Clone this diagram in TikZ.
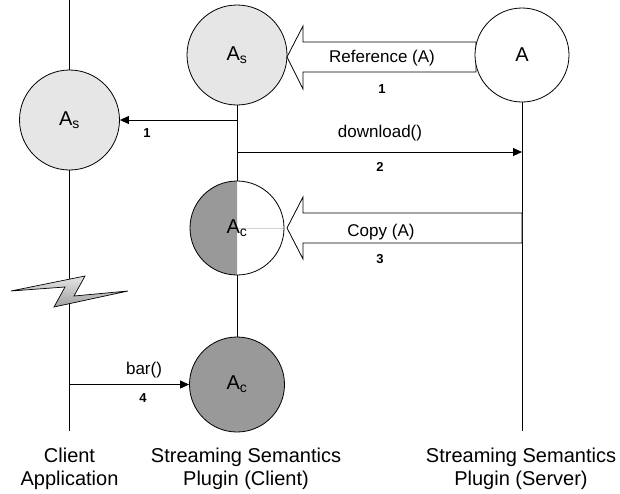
\documentclass[tikz,border=0pt]{standalone}
\usepackage{fontspec}
\setmainfont{Liberation Sans}
\usetikzlibrary{arrows.meta}
\definecolor{lightfill}{RGB}{230,230,230}
\definecolor{darkfill}{RGB}{153,153,153}
\begin{document}
\begin{tikzpicture}[x=1pt,y=-1pt,
  line width=0.9pt,
  circ/.style={circle,draw=black,line width=0.8pt,inner sep=0pt,font=\fontsize{20}{22}\selectfont},
  lbl/.style={font=\fontsize{17}{19}\selectfont,inner sep=0pt},
  num/.style={font=\fontsize{13}{15}\selectfont\bfseries,inner sep=0pt},
  bottomlbl/.style={font=\fontsize{20}{23}\selectfont,align=center,inner sep=0pt,anchor=base},
  msg/.style={-{Triangle[length=9pt,width=8pt]}},
  bigarrow/.style={draw=black,fill=white,line width=0.8pt}
]
\useasboundingbox (0,0) rectangle (620,493);

% coordinates
\coordinate (ctop) at (69.5,0);
\coordinate (cbot) at (69.5,431);
\coordinate (sbot) at (522,431);

% circles
\node[circ,fill=lightfill,minimum size=100pt] (ps) at (237,55) {A\textsubscript{s}};
\node[circ,fill=lightfill,minimum size=100pt] (cs) at (69.5,120) {A\textsubscript{s}};
\node[circ,fill=darkfill,minimum size=95pt] (pb) at (237,384.5) {A\textsubscript{c}};

% lifelines
\coordinate (pcn) at (237,181);
\coordinate (pcs) at (237,275);
\coordinate (srvs) at (522,102);
\draw (ctop) -- (cs.north);
\draw (cs.south) -- (cbot);
\draw (ps.south) -- (pcn);
\draw (pcs) -- (pb.north);
\draw (srvs) -- (sbot);

% big arrows
\draw[bigarrow] (476,42) -- (303,42) -- (303,26) -- (287,57) -- (303,89) -- (303,72) -- (476,72) -- cycle;
\draw[bigarrow] (522,213) -- (303,213) -- (303,197) -- (287,228) -- (303,259) -- (303,243) -- (522,243) -- cycle;

% server circle on top of arrow end
\node[circ,fill=white,minimum size=94pt] (srv) at (522,55) {A};

% middle circle, half filled
\fill[white] (237,228) circle[radius=47pt];
\begin{scope}
  \clip (180,170) rectangle (237,290);
  \fill[darkfill] (237,228) circle[radius=47pt];
\end{scope}
\draw[gray!35,line width=0.5pt] (237,228) -- (284,228);
\node[circ,minimum size=94pt] (pc) at (237,228) {A\textsubscript{c}};

% messages
\coordinate (m1) at (237,120);
\draw[msg] (m1) -- (cs.east);
\coordinate (m2a) at (237,152);
\coordinate (m2b) at (522,152);
\draw[msg] (m2a) -- (m2b);
\coordinate (m4) at (69.5,384.5);
\draw[msg] (m4) -- (pb.west);

% labels
\node[lbl] (lref) at (382,58) {Reference (A)};
\node[num] (n1a) at (382,89) {1};
\node[num] (n1b) at (147,133) {1};
\node[lbl] (ldl) at (380,133) {download()};
\node[num] (n2) at (380,167) {2};
\node[lbl] (lcp) at (381,232) {Copy (A)};
\node[num] (n3) at (380,259) {3};
\node[lbl] (lbar) at (144,370) {bar()};
\node[num] (n4) at (143,398) {4};

% lightning
\draw[line width=0.7pt,top color=gray!20,bottom color=gray!75]
  (11,291) -- (85,276) -- (74,296) -- (128,291) -- (54,307) -- (65,287) -- cycle;

% bottom labels (base = last line)
\node[bottomlbl] (lcl) at (69.5,485) {Client\\Application};
\node[bottomlbl] (lpc) at (246,485) {Streaming Semantics\\Plugin (Client)};
\node[bottomlbl] (lsv) at (521,485) {Streaming Semantics\\Plugin (Server)};
\end{tikzpicture}
\end{document}
